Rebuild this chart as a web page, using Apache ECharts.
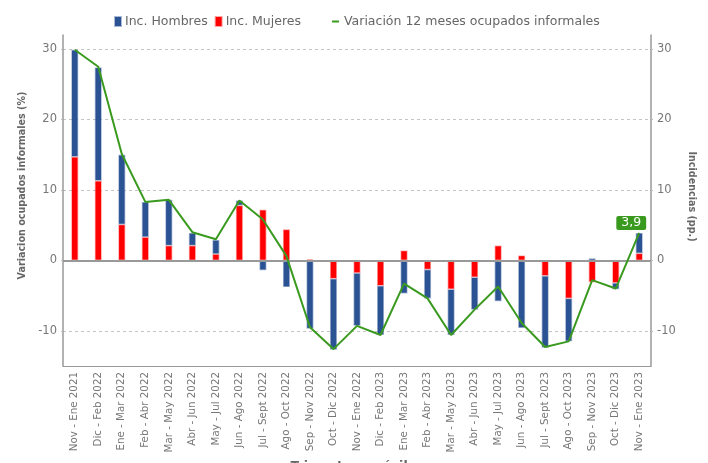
<!DOCTYPE html>
<html><head><meta charset="utf-8">
<script src="https://cdn.jsdelivr.net/npm/echarts@6/dist/echarts.min.js"></script>
<style>html,body{margin:0;padding:0;background:#fff}#c{width:708px;height:463px}</style>
</head><body><div id="c"></div>
<script>
const categories = ["Nov - Ene 2021","Dic - Feb 2022","Ene - Mar 2022","Feb - Abr 2022","Mar - May 2022","Abr - Jun 2022","May - Jul 2022","Jun - Ago 2022","Jul - Sept 2022","Ago - Oct 2022","Sep - Nov 2022","Oct - Dic 2022","Nov - Ene 2022","Dic - Feb 2023","Ene - Mar 2023","Feb - Abr 2023","Mar - May 2023","Abr - Jun 2023","May - Jul 2023","Jun - Ago 2023","Jul - Sept 2023","Ago - Oct 2023","Sep - Nov 2023","Oct - Dic 2023","Nov - Ene 2023"];
const incMujeres = [14.7, 11.3, 5.1, 3.3, 2.1, 2.1, 0.9, 7.8, 7.2, 4.4, 0.2, -2.6, -1.8, -3.6, 1.4, -1.3, -4.1, -2.4, 2.1, 0.7, -2.2, -5.4, -3.1, -3.2, 1.0];
const incHombres = [15.2, 16.1, 9.9, 5.0, 6.5, 1.8, 2.0, 0.7, -1.4, -3.8, -9.7, -10.1, -7.5, -7.0, -4.7, -4.1, -6.5, -4.6, -5.8, -9.6, -10.2, -6.1, 0.3, -0.9, 2.9];
const variacion = [29.9, 27.5, 15.1, 8.3, 8.6, 4.0, 3.0, 8.5, 5.8, 0.6, -9.5, -12.6, -9.3, -10.6, -3.3, -5.4, -10.6, -7.0, -3.7, -8.9, -12.3, -11.5, -2.8, -4.0, 3.9];
const yMin = -15, yMax = 32;

const FONT = 'DejaVu Sans';
const BLUE = '#2b5394', RED = '#ff0000', GREEN = '#3a9a1f';
const chart = echarts.init(document.getElementById('c'), null, {renderer: 'canvas'});
const lastIdx = variacion.length - 1;
const lineData = variacion.map((v, i) => i === lastIdx ? {
  value: v,
  label: {show: true, position: 'top', distance: 3,
    formatter: p => String(p.value).replace('.', ','),
    color: '#fff', backgroundColor: GREEN, borderRadius: 2, padding: [1, 5, 1, 5], lineHeight: 12,
    fontFamily: FONT, fontSize: 12.5}
} : v);

const yAxisCommon = {
  type: 'value', min: yMin, max: yMax,
  axisLine: {show: true, lineStyle: {color: '#999', width: 1.5}},
  axisTick: {show: true, length: 4, lineStyle: {color: '#bbb', type: [2, 2]}},
  axisLabel: {color: '#777', fontSize: 11.5, fontFamily: FONT, showMinLabel: false, showMaxLabel: false, margin: 6},
  nameLocation: 'middle',
  nameTextStyle: {color: '#666', fontWeight: 'bold', fontSize: 9.6, fontFamily: FONT}
};

chart.setOption({
  animation: false,
  textStyle: {fontFamily: FONT},
  grid: {left: 63, right: 57, top: 35, bottom: 97, containLabel: false, outerBoundsMode: 'none'},
  legend: [{
    left: 109, top: 10, itemWidth: 6, itemHeight: 9, itemGap: 7,
    textStyle: {color: '#666', fontSize: 12.5, fontFamily: FONT, padding: [0, 0, 0, -1]},
    data: [{name: 'Inc. Hombres', icon: 'rect'}, {name: 'Inc. Mujeres', icon: 'rect'}]
  }, {
    left: 327, top: 10, itemWidth: 7, itemHeight: 9, itemGap: 7,
    textStyle: {color: '#666', fontSize: 12.5, fontFamily: FONT},
    data: [{name: 'Variación 12 meses ocupados informales', icon: 'path://M0,4 L7,4 L7,6 L0,6 Z'}]
  }],
  xAxis: {
    type: 'category', data: categories,
    name: 'Trimestres móviles', nameLocation: 'middle', nameGap: 90,
    nameTextStyle: {color: '#666', fontWeight: 'bold', fontSize: 12.5, fontFamily: FONT},
    axisLine: {onZero: false, lineStyle: {color: '#999', width: 1}},
    axisTick: {alignWithLabel: true, length: 5, lineStyle: {color: '#999'}},
    axisLabel: {rotate: 90, interval: 0, color: '#777', fontSize: 10.3, fontFamily: FONT, margin: 6}
  },
  yAxis: [
    Object.assign({}, yAxisCommon, {
      position: 'left', name: 'Variacion ocupados informales (%)', nameGap: 32, nameRotate: 90,
      nameTextStyle: Object.assign({}, yAxisCommon.nameTextStyle, {padding: [0, 0, 0, 30]}),
      splitLine: {show: true, showMinLine: false, showMaxLine: false, lineStyle: {color: '#c4c4c4', type: [3, 3], width: 1}}
    }),
    Object.assign({}, yAxisCommon, {
      position: 'right', name: 'Incidencias (pp.)', nameGap: 34, nameRotate: -90,
      nameTextStyle: Object.assign({}, yAxisCommon.nameTextStyle, {padding: [0, 8, 0, 0]}),
      splitLine: {show: false}
    })
  ],
  series: [
    {name: 'Inc. Mujeres', type: 'bar', stack: 'inc', yAxisIndex: 1, barWidth: 7, data: incMujeres,
      itemStyle: {color: RED, borderColor: 'rgba(255,0,0,0.35)', borderWidth: 1.5}},
    {name: 'Inc. Hombres', type: 'bar', stack: 'inc', yAxisIndex: 1, barWidth: 7, data: incHombres,
      itemStyle: {color: BLUE, borderColor: 'rgba(43,83,148,0.4)', borderWidth: 1.5},
      markLine: {silent: true, symbol: 'none', label: {show: false},
        lineStyle: {color: '#999', width: 2, type: 'solid'}, data: [{yAxis: 0}]}},
    {name: 'Variación 12 meses ocupados informales', type: 'line', yAxisIndex: 0, data: lineData,
      showSymbol: true, symbol: 'circle', symbolSize: 0.01, labelLayout: {hideOverlap: false, dx: -8},
      lineStyle: {color: GREEN, width: 2}, itemStyle: {color: GREEN}, z: 5}
  ]
});
</script></body></html>
